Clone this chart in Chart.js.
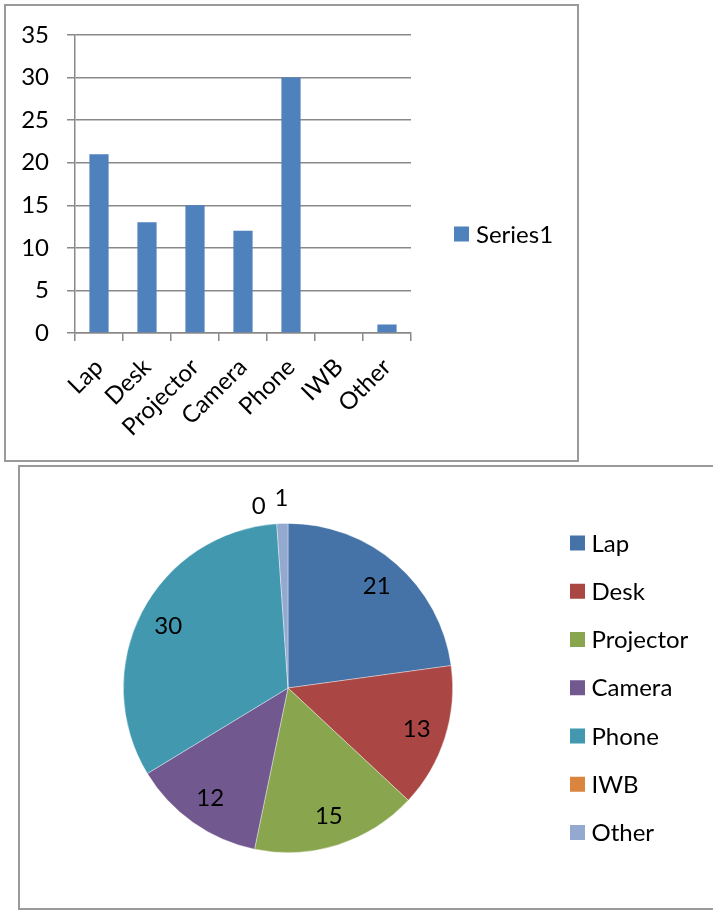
<!DOCTYPE html>
<html>
<head>
<meta charset="utf-8">
<title>Equipment counts</title>
<script src="https://cdn.jsdelivr.net/npm/chart.js@4"></script>
<style>
  body { margin: 0; background: #fff; }
  #page { position: relative; width: 713px; height: 910px; overflow: hidden; }
  .frame { position: absolute; border: 2px solid #9a9a9a; box-sizing: border-box; }
  #barFrame { left: 4px; top: 4px; width: 575px; height: 458px; }
  #pieFrame { left: 18px; top: 465px; width: 740px; height: 445px; }
  #barChart { position: absolute; left: 0; top: 0; }
  #pieChart { position: absolute; left: 20px; top: 468px; }
</style>
</head>
<body>
<div id="page">
  <div class="frame" id="barFrame"></div>
  <div class="frame" id="pieFrame"></div>
  <canvas id="barChart" width="580" height="462"></canvas>
  <canvas id="pieChart" width="693" height="440"></canvas>
</div>
<script>
// --- data ---
const categories = ['Lap', 'Desk', 'Projector', 'Camera', 'Phone', 'IWB', 'Other'];
const counts = [21, 13, 15, 12, 30, 0, 1];
const seriesName = 'Series1';
const yTickValues = [0, 5, 10, 15, 20, 25, 30, 35];

// --- colours ---
const barColor = '#4F81BD';
const sliceColors = ['#4572A7', '#AA4643', '#89A54E', '#71588F', '#4198AF', '#DB843D', '#93A9CF'];
const gridColor = '#898989';
const FONT = { family: 'Lato, "Open Sans", sans-serif', size: 24 };
const fontCss = `${FONT.size}px ${FONT.family}`;

// legend drawn as a column of square swatches + labels, items come from the legend plugin
const sideLegend = {
  id: 'sideLegend',
  afterDraw(chart, args, opts) {
    const items = chart.options.plugins.legend.labels.generateLabels(chart);
    const ctx = chart.ctx;
    ctx.save();
    ctx.font = fontCss;
    ctx.textBaseline = 'middle';
    ctx.textAlign = 'left';
    items.forEach((it, i) => {
      const y = opts.y + i * opts.step;
      ctx.fillStyle = it.fillStyle;
      ctx.fillRect(opts.x, y - opts.box / 2, opts.box, opts.box);
      ctx.fillStyle = '#000';
      ctx.fillText(it.text, opts.x + opts.gap, y + 1);
    });
    ctx.restore();
  }
};

// value labels on the pie; tiny slices get theirs outside the rim
const sliceLabels = {
  id: 'sliceLabels',
  afterDatasetsDraw(chart, args, opts) {
    const meta = chart.getDatasetMeta(0);
    const values = chart.data.datasets[0].data;
    const total = values.reduce((a, b) => a + b, 0);
    const ctx = chart.ctx;
    ctx.save();
    ctx.font = fontCss;
    ctx.fillStyle = '#000';
    ctx.textAlign = 'center';
    ctx.textBaseline = 'middle';
    let prevLeft = Infinity;
    for (let i = values.length - 1; i >= 0; i--) {
      const arc = meta.data[i];
      const mid = (arc.startAngle + arc.endAngle) / 2;
      const text = String(values[i]);
      const w = ctx.measureText(text).width;
      const small = values[i] / total < 0.03;
      const r = small ? arc.outerRadius + opts.outside : arc.outerRadius * opts.inside;
      let x = arc.x + Math.cos(mid) * r;
      let y = arc.y + Math.sin(mid) * r;
      if (small) {
        if (x + w / 2 > prevLeft - 2) {
          x = prevLeft - w / 2 - opts.nudge;
          y += opts.drop;
        }
        prevLeft = x - w / 2;
      }
      ctx.fillText(text, x, y);
    }
    ctx.restore();
  }
};

new Chart(document.getElementById('barChart'), {
  type: 'bar',
  data: {
    labels: categories,
    datasets: [{
      label: seriesName,
      data: counts,
      backgroundColor: barColor,
      categoryPercentage: 1,
      barPercentage: 0.4
    }]
  },
  plugins: [sideLegend],
  options: {
    responsive: false,
    animation: false,
    layout: { padding: { left: 0, top: 35, right: 169, bottom: 0 } },
    plugins: {
      legend: { display: false },
      tooltip: { enabled: false },
      sideLegend: { x: 454, y: 234, step: 0, box: 15, gap: 22 }
    },
    scales: {
      x: {
        grid: { offset: true, drawOnChartArea: false, tickLength: 8, color: gridColor, lineWidth: 1.5 },
        border: { color: gridColor, width: 1.5 },
        ticks: { font: FONT, color: '#000', minRotation: 45, maxRotation: 45, autoSkip: false, padding: 12 },
        afterFit: s => { s.height = 129; }
      },
      y: {
        min: 0,
        max: 35,
        afterBuildTicks: s => { s.ticks = yTickValues.map(v => ({ value: v })); },
        grid: { color: gridColor, lineWidth: 1.5, tickLength: 8 },
        border: { color: gridColor, width: 1.5 },
        ticks: { font: FONT, color: '#000', padding: 18 },
        afterFit: s => { s.width = 75; }
      }
    }
  }
});

new Chart(document.getElementById('pieChart'), {
  type: 'pie',
  data: {
    labels: categories,
    datasets: [{
      data: counts,
      backgroundColor: sliceColors,
      borderColor: 'rgba(255,255,255,0.5)',
      borderWidth: 0.75
    }]
  },
  plugins: [sliceLabels, sideLegend],
  options: {
    responsive: false,
    animation: false,
    layout: { padding: { left: 103, top: 55, right: 260, bottom: 55 } },
    plugins: {
      legend: { display: false },
      tooltip: { enabled: false },
      sliceLabels: { inside: 0.82, outside: 25, nudge: 9, drop: 7 },
      sideLegend: { x: 550, y: 75, step: 48.25, box: 15, gap: 21.5 }
    }
  }
});
</script>
</body>
</html>
